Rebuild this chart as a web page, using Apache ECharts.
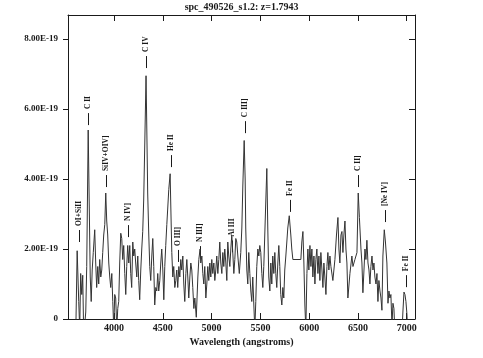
<!DOCTYPE html>
<html><head><meta charset="utf-8">
<script src="https://cdn.jsdelivr.net/npm/echarts@6/dist/echarts.min.js"></script>
<style>html,body{margin:0;padding:0;background:#fff}#c{width:483px;height:358px}</style>
</head><body><div id="c"></div>
<script>
// Spectrum: wavelength (angstroms) and flux (units of 1E-19)
const wavelengths = [3602,3607,3622,3638,3648,3658,3669,3679,3689,3710,3720,3735,3746,3756,3766,3776,3787,3802,3812,3822,3833,3843,3853,3864,3874,3884,3894,3905,3915,3925,3935,3946,3956,3966,3977,3987,3997,4007,4017,4028,4038,4048,4058,4069,4079,4089,4099,4110,4120,4130,4140,4151,4161,4171,4181,4192,4202,4212,4222,4233,4243,4253,4263,4274,4284,4294,4304,4315,4328,4335,4345,4356,4366,4376,4387,4397,4407,4417,4428,4438,4448,4458,4469,4479,4489,4500,4510,4520,4530,4541,4551,4561,4575,4582,4592,4602,4612,4623,4633,4643,4653,4664,4674,4684,4694,4705,4715,4725,4736,4746,4756,4766,4777,4787,4797,4807,4818,4828,4843,4859,4869,4882,4889,4900,4910,4920,4930,4941,4951,4961,4971,4982,4992,5002,5012,5023,5033,5043,5053,5064,5074,5084,5094,5105,5115,5125,5135,5146,5156,5166,5176,5187,5197,5207,5217,5228,5238,5248,5258,5269,5284,5299,5310,5320,5334,5344,5350,5361,5371,5381,5392,5402,5412,5422,5433,5443,5453,5463,5474,5484,5494,5504,5515,5525,5535,5545,5556,5566,5576,5586,5597,5607,5617,5627,5638,5648,5658,5668,5679,5689,5699,5709,5720,5730,5740,5750,5761,5771,5781,5796,5812,5822,5833,5915,5925,5936,5946,5956,5966,5977,5987,5997,6008,6018,6028,6038,6049,6059,6069,6079,6090,6100,6110,6120,6131,6141,6151,6161,6172,6182,6192,6202,6213,6223,6243,6264,6280,6295,6305,6315,6326,6336,6346,6356,6367,6377,6387,6397,6418,6438,6449,6469,6490,6503,6515,6531,6541,6551,6562,6572,6582,6592,6603,6613,6623,6633,6644,6654,6664,6674,6685,6695,6705,6715,6726,6736,6746,6756,6770,6782,6797,6808,6818,6828,6838,6849,6859,6869,6879,6910,6951,6961,6972,6982,6992,7002,7012];
const fluxE19 = [-1.0,-0.5,1.95,0.5,-0.3,1.3,0.7,1.25,-0.5,0.2,1.5,5.4,3.2,1.2,0.5,1.4,1.9,2.55,1.6,0.9,1.5,1.0,1.7,1.2,1.4,1.9,2.4,2.7,3.6,2.8,2.4,1.6,1.2,0.9,1.3,0.5,-0.3,0.7,0.6,-0.3,0.3,0.5,1.6,2.45,2.3,1.7,2.1,1.3,0.7,1.5,2.1,1.6,2.1,1.3,0.9,2.2,1.8,2.0,1.6,1.2,1.8,1.1,0.55,1.4,2.0,2.5,3.4,5.0,6.95,5.6,3.6,2.4,1.5,1.1,1.8,2.3,1.5,0.4,0.9,0.8,1.3,0.8,1.1,1.6,2.0,1.4,0.55,1.5,2.1,2.7,3.2,3.7,4.15,3.2,1.9,1.2,1.5,0.9,1.1,1.4,0.9,1.5,1.2,1.7,1.4,1.8,1.0,0.5,1.3,1.7,1.2,0.6,1.2,1.6,1.4,0.9,0.3,0.6,0.05,1.2,1.7,2.0,1.6,1.8,1.3,1.0,1.5,0.6,1.0,1.5,1.1,1.6,1.2,1.7,1.3,1.6,1.1,1.4,1.8,1.3,1.7,2.2,1.6,1.3,1.9,1.5,2.0,1.6,1.1,2.2,1.8,1.5,2.0,2.4,1.9,1.3,1.7,2.3,2.2,1.8,1.3,1.9,2.6,3.8,5.1,4.0,2.6,1.4,1.0,1.9,1.3,0.8,0.5,1.2,0.4,-0.3,0.5,1.5,2.0,1.8,2.1,1.9,1.3,0.9,1.5,2.4,3.4,4.3,2.6,1.2,0.8,1.6,1.0,1.8,1.3,1.9,1.3,0.9,1.6,2.1,1.5,0.7,0.4,0.9,0.6,1.4,1.8,2.2,2.6,2.95,2.4,2.0,1.7,1.7,2.2,2.5,1.6,0.4,-0.3,1.3,2.0,1.4,2.1,1.5,2.0,1.2,1.8,1.0,1.7,2.0,1.3,1.8,1.1,1.9,1.4,0.9,1.6,1.2,0.7,1.5,1.9,1.4,1.8,1.5,1.1,1.7,2.4,2.9,2.0,1.6,2.4,2.5,1.9,2.4,2.8,2.0,1.6,0.6,1.3,1.8,1.5,1.7,1.9,3.6,2.9,2.0,1.6,0.75,1.4,2.0,1.7,2.25,1.6,1.4,1.0,1.5,1.8,1.4,1.6,1.2,1.0,1.3,0.5,1.1,0.8,0.6,0.25,1.8,2.55,2.2,1.6,0.45,0.8,0.6,0.7,-0.2,0.45,0.3,-0.4,-0.6,-0.4,0.2,0.77,0.7,0.5,0.15,-0.5];
const xTicks = [4000,4500,5000,5500,6000,6500,7000];
const yTicks = [0,2,4,6,8];
// Line identifications
const lineNames = ['OI+SiII','C II','SiIV+OIV]','N IV]','C IV','He II','O III]','N III]','Al III','C III]','Fe II','C II]','[Ne IV]','Fe II'];
const lineWaves = [3636,3735,3915,4148,4330,4587,4654,4884,5207,5338,5803,6503,6777,6993];
const lineLevels = [2.2,5.54,3.77,2.34,7.17,4.34,1.63,1.74,1.9,5.31,3.06,3.77,2.77,0.91];

const FONT = '"Liberation Serif", "DejaVu Serif", serif';
const INK = '#1a1a1a';
const chart = echarts.init(document.getElementById('c'), null, {renderer:'canvas'});
const axisBase = {type:'value', min:3528, max:7085, splitLine:{show:false},
  axisLine:{show:true, onZero:false, lineStyle:{color:INK, width:1}}};
chart.setOption({
  animation:false,
  backgroundColor:'#fff',
  title:{text:'spc_490526_s1.2: z=1.7943', left:'center', top:0, padding:[1,5,3,5],
    textStyle:{fontFamily:FONT, fontWeight:'bold', fontSize:10, lineHeight:12, color:INK}},
  grid:{left:68, right:68, top:15, bottom:39, containLabel:false},
  xAxis:[
    Object.assign({}, axisBase, {position:'bottom',
      axisTick:{show:true, inside:true, length:6, customValues:xTicks, lineStyle:{color:INK}},
      axisLabel:{show:true, customValues:xTicks, margin:4, fontFamily:FONT, fontWeight:'bold', fontSize:10, color:INK,
        formatter:v => String(v)},
      name:'Wavelength (angstroms)', nameLocation:'middle', nameGap:15,
      nameTextStyle:{fontFamily:FONT, fontWeight:'bold', fontSize:10, color:INK}}),
    Object.assign({}, axisBase, {position:'top',
      axisTick:{show:true, inside:true, length:6, customValues:xTicks, lineStyle:{color:INK}},
      axisLabel:{show:false}})
  ],
  yAxis:[
    {type:'value', min:0, max:8.686, position:'left', splitLine:{show:false},
      axisLine:{show:true, onZero:false, lineStyle:{color:INK}},
      axisTick:{show:true, inside:false, length:5, customValues:yTicks, lineStyle:{color:INK}},
      axisLabel:{show:true, customValues:yTicks, margin:10, fontFamily:FONT, fontWeight:'bold', fontSize:9, color:INK,
        formatter:v => v === 0 ? '0' : v.toFixed(2) + 'E-19'}},
    {type:'value', min:0, max:8.686, position:'right', splitLine:{show:false},
      axisLine:{show:true, onZero:false, lineStyle:{color:INK}},
      axisTick:{show:true, inside:true, length:6, customValues:yTicks, lineStyle:{color:INK}},
      axisLabel:{show:false}}
  ],
  series:[
    {type:'line', xAxisIndex:0, yAxisIndex:0, showSymbol:false, clip:true,
      data:wavelengths.map((w,i)=>[w, fluxE19[i]]),
      lineStyle:{color:'#333', width:1}},
    {type:'custom', xAxisIndex:0, yAxisIndex:0, clip:false,
      data:lineWaves.map((w,i)=>[w, lineLevels[i]]),
      renderItem:function(params, api){
        const p = api.coord([api.value(0), api.value(1)]);
        const x = Math.round(p[0]) + 0.5;
        return {type:'group', children:[
          {type:'line', shape:{x1:x, y1:p[1], x2:x, y2:p[1]-12}, style:{stroke:INK, lineWidth:1}},
          {type:'text', x:x, y:p[1]-16, rotation:Math.PI/2,
            style:{text:lineNames[params.dataIndex], font:'bold 7.5px ' + FONT, fill:INK, align:'left', verticalAlign:'middle'}}
        ]};
      }}
  ]
});
</script></body></html>
